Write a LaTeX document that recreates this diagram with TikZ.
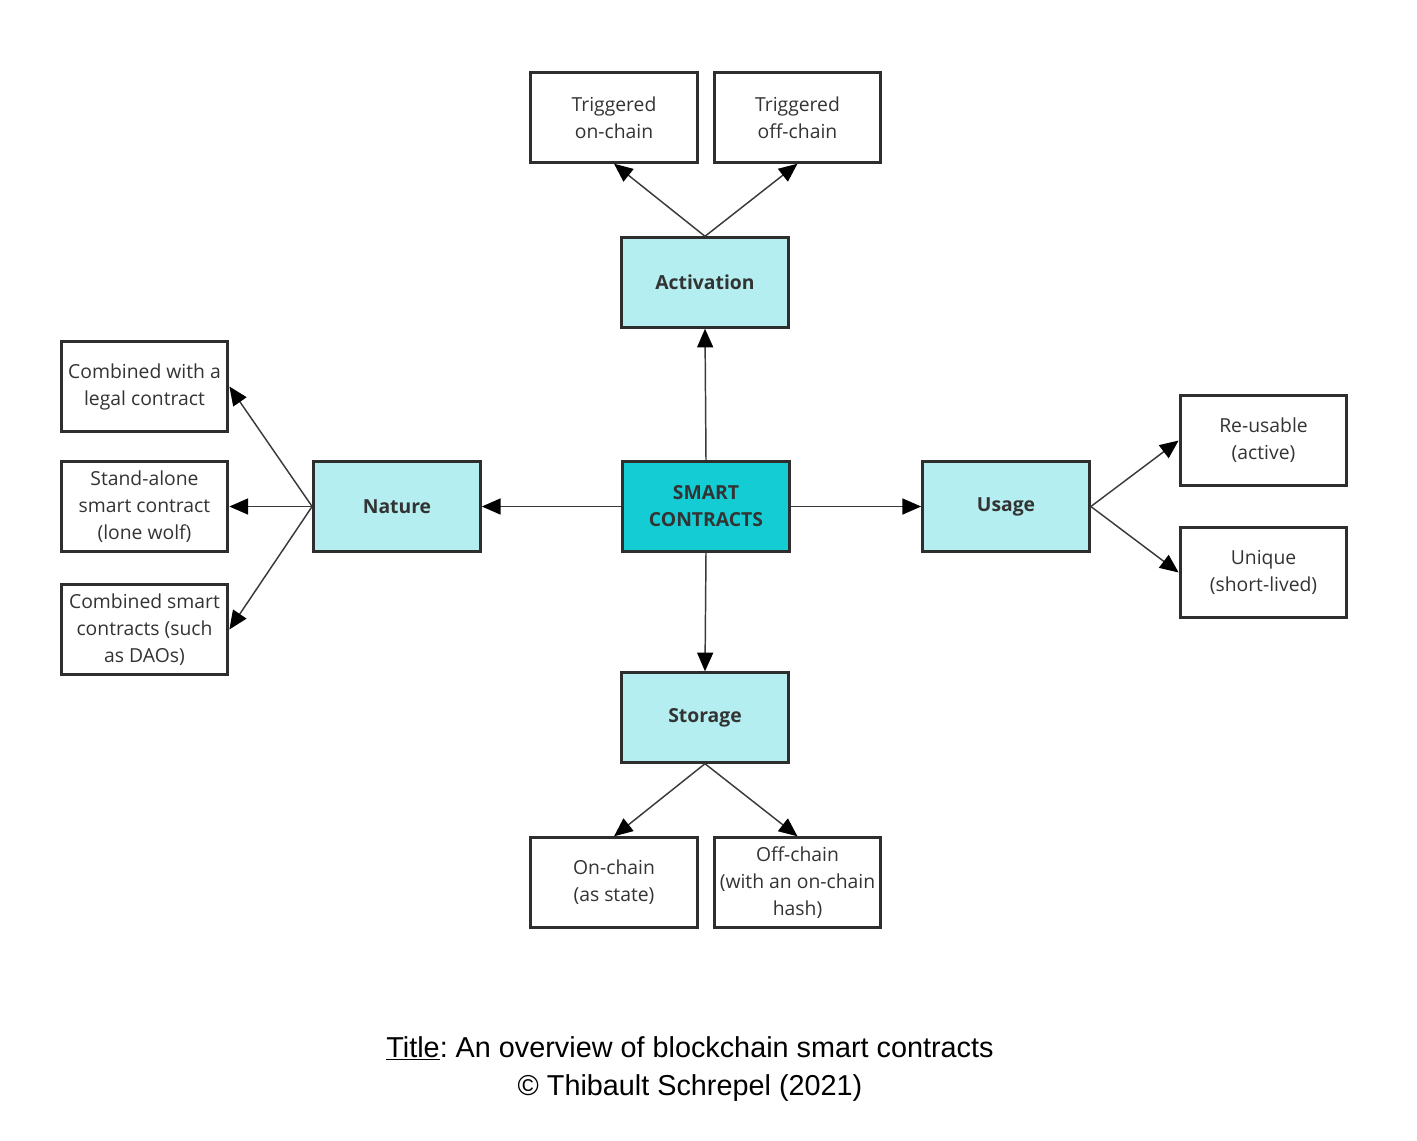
\documentclass[tikz,border=0pt]{standalone}
\usepackage{fontspec}
\setmainfont{Liberation Sans}
\newfontfamily\osans{Open Sans}
\usetikzlibrary{arrows.meta}
\definecolor{boxline}{HTML}{2E2E2E}
\definecolor{linecol}{HTML}{3A3A3A}
\definecolor{txt}{HTML}{333333}
\definecolor{lightcyan}{HTML}{B4EEF0}
\definecolor{darkcyan}{HTML}{14CDD4}
\tikzset{
  box/.style={draw=boxline, line width=2.3pt, minimum width=125pt, minimum height=67pt,
    inner sep=0pt, align=center, text=txt, font=\osans\fontsize{14.5}{20.25}\selectfont},
  catbox/.style={box, fill=lightcyan, font=\osans\bfseries\fontsize{14.5}{20.25}\selectfont},
  mainbox/.style={box, fill=darkcyan, font=\osans\bfseries\fontsize{14.5}{20.25}\selectfont},
  conn/.style={draw=linecol, line width=1.1pt, -{Triangle[length=14pt,width=12pt,color=black,fill=black]}},
}
\begin{document}
\frenchspacing
\begin{tikzpicture}[x=0.75pt,y=-0.75pt]
\useasboundingbox (0,0) rectangle (1417,1140);
% centre
\node[mainbox] (sc) at (706,506.5) {SMART\\CONTRACTS};
\node[catbox] (act) at (705,282.5) {Activation};
\node[catbox] (nat) at (397,506.5) {Nature};
\node[catbox] (use) at (1006,506.5) {Usage};
\node[catbox] (sto) at (705,717.5) {Storage};
% top
\node[box] (t1) at (614,117.5) {Triggered\\on-chain};
\node[box] (t2) at (797.5,117.5) {Triggered\\off-chain};
% left
\node[box] (l1) at (144.5,386.5) {Combined with a\\legal contract};
\node[box] (l2) at (144.5,506.5) {Stand-alone\\smart contract\\(lone wolf)};
\node[box] (l3) at (144.5,629.5) {Combined smart\\contracts (such\\as DAOs)};
% right
\node[box] (r1) at (1263.5,440.5) {Re-usable\\(active)};
\node[box] (r2) at (1263.5,572.5) {Unique\\(short-lived)};
% bottom
\node[box] (b1) at (614,882.5) {On-chain\\(as state)};
\node[box] (b2) at (797.5,882.5) {Off-chain\\(with an on-chain\\hash)};
% connectors
\draw[conn] (sc.north) -- (act.south);
\draw[conn] (sc.west) -- (nat.east);
\draw[conn] (sc.east) -- (use.west);
\draw[conn] (sc.south) -- (sto.north);
\draw[conn] (act.north) -- (t1.south);
\draw[conn] (act.north) -- (t2.south);
\draw[conn] (nat.west) -- (l1.east);
\draw[conn] (nat.west) -- (l2.east);
\draw[conn] (nat.west) -- (l3.east);
\draw[conn] (use.east) -- (r1.west);
\draw[conn] (use.east) -- (r2.west);
\draw[conn] (sto.south) -- (b1.north);
\draw[conn] (sto.south) -- (b2.north);
% caption
\node[align=center, font=\fontsize{21.6}{28.5}\selectfont, text=black] (cap) at (690,1069)
  {\underline{Title}: An overview of blockchain smart contracts\\\textcopyright{} Thibault Schrepel (2021)};
\end{tikzpicture}
\end{document}
